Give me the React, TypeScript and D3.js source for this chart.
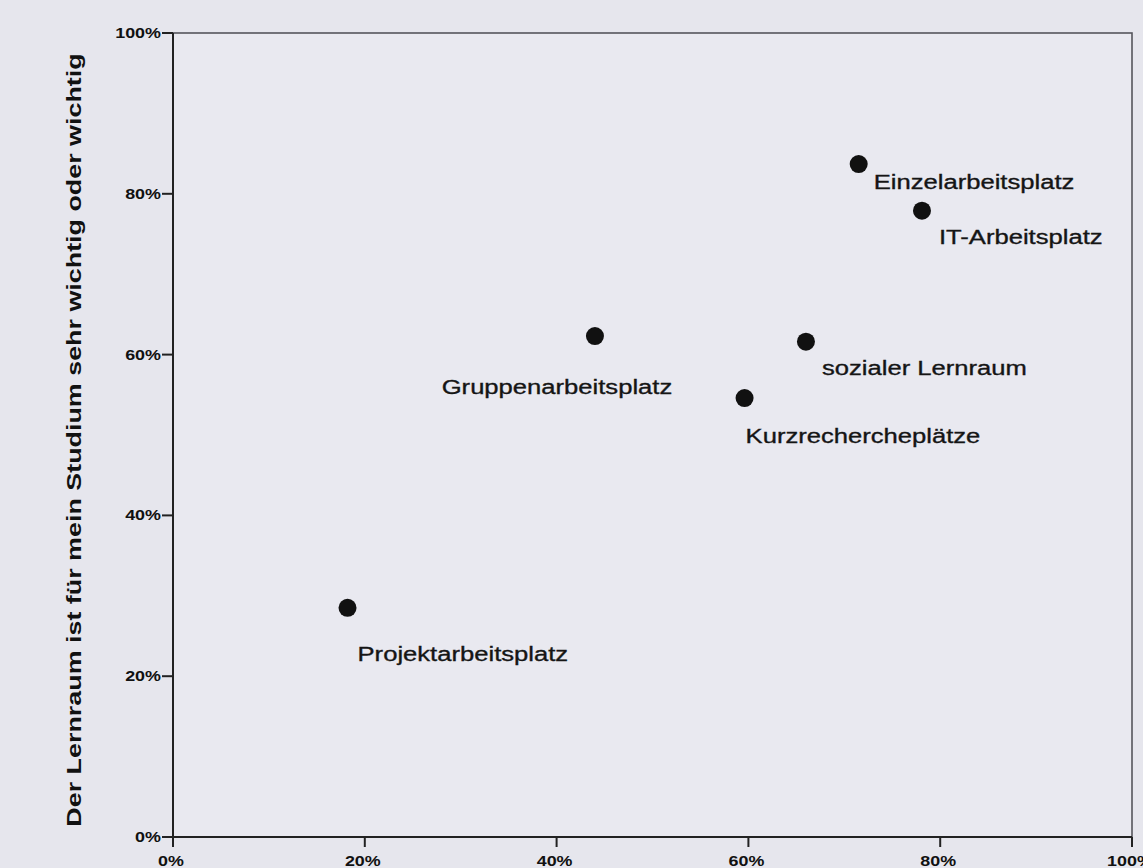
import React from "react";
import * as d3 from "d3";

const categories = [
  "Einzelarbeitsplatz",
  "IT-Arbeitsplatz",
  "Gruppenarbeitsplatz",
  "sozialer Lernraum",
  "Kurzrechercheplätze",
  "Projektarbeitsplatz",
];
const xValues = [71.5, 78.1, 44.0, 66.0, 59.6, 18.2];
const yValues = [83.7, 77.9, 62.3, 61.6, 54.6, 28.5];
const tickValues = [0, 20, 40, 60, 80, 100];
const yTitle = "Der Lernraum ist für mein Studium sehr wichtig oder wichtig";

export default function App() {
  const W = 1143;
  const H = 868;
  const x = d3.scaleLinear().domain([0, 100]).range([173, 1132]);
  const y = d3.scaleLinear().domain([0, 100]).range([837, 33]);
  const fmt = (v: number) => `${v}%`;
  const SX = 1.28; // horizontal stretch of the scanned text
  // label placement relative to point: [dx, dy, anchor]
  const offsets: [number, number, string][] = [
    [15, 25, "start"],
    [17, 33, "start"],
    [-38, 58, "middle"],
    [16, 33, "start"],
    [1, 45, "start"],
    [10, 53, "start"],
  ];
  return (
    <svg
      width={W}
      height={H}
      style={{ position: "absolute", left: 0, top: 0, fontFamily: "Liberation Sans, Arial, sans-serif" }}
    >
      <rect x={0} y={0} width={W} height={H} fill="#e6e6ed" />
      <rect x={x(0)} y={y(100)} width={x(100) - x(0)} height={y(0) - y(100)} fill="#e9e9f0" stroke="#55555c" strokeWidth={1.6} />
      <line x1={x(0)} x2={x(0)} y1={y(100)} y2={y(0)} stroke="#222" strokeWidth={2} />
      <line x1={x(0)} x2={x(100)} y1={y(0)} y2={y(0)} stroke="#222" strokeWidth={2} />
      {tickValues.map((t) => (
        <g key={"y" + t}>
          <line x1={x(0) - 11} x2={x(0)} y1={y(t)} y2={y(t)} stroke="#222" strokeWidth={2} />
          <text
            transform={`translate(${x(0) - 12}, ${y(t) + 5}) scale(${SX},1)`}
            textAnchor="end"
            fontSize={14}
            fontWeight="bold"
            fill="#111"
          >
            {fmt(t)}
          </text>
        </g>
      ))}
      {tickValues.map((t) => (
        <g key={"x" + t}>
          <line x1={x(t)} x2={x(t)} y1={y(0)} y2={y(0)} stroke="#222" strokeWidth={2} />
          <line x1={x(t)} x2={x(t)} y1={y(0)} y2={y(0) + 10} stroke="#222" strokeWidth={2} />
          <text
            transform={`translate(${x(t) - 2}, ${y(0) + 29}) scale(${SX},1)`}
            textAnchor="middle"
            fontSize={14}
            fontWeight="bold"
            fill="#111"
          >
            {fmt(t)}
          </text>
        </g>
      ))}
      <text
        transform={`translate(81, 440) rotate(-90) scale(${SX},1)`}
        textAnchor="middle"
        fontSize={21}
        fontWeight="bold"
        fill="#111"
      >
        {yTitle}
      </text>
      {categories.map((c, i) => (
        <g key={c}>
          <circle cx={x(xValues[i])} cy={y(yValues[i])} r={9} fill="#111" />
          <text
            transform={`translate(${x(xValues[i]) + offsets[i][0]}, ${y(yValues[i]) + offsets[i][1]}) scale(1.22,1)`}
            textAnchor={offsets[i][2]}
            fontSize={21}
            fill="#151515"
            stroke="#151515"
            strokeWidth={0.35}
          >
            {c}
          </text>
        </g>
      ))}
    </svg>
  );
}
